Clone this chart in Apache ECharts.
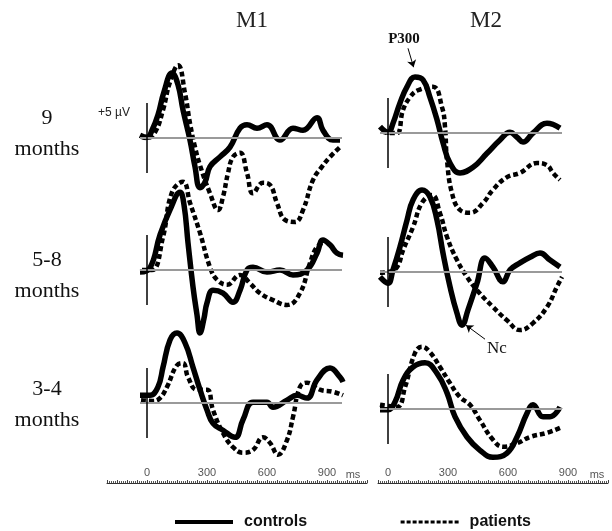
<!DOCTYPE html>
<html>
<head>
<meta charset="utf-8">
<script src="https://cdn.jsdelivr.net/npm/echarts@6/dist/echarts.min.js"></script>
<style>html,body{margin:0;background:#fff}#chart{width:612px;height:531px}</style>
</head>
<body>
<div id="chart"></div>
<script>
'use strict';

// ERP waveforms, [ms, µV]
const ctrl9M1 = [[-35,0.4],[0,0.1],[25,1.1],[55,3.3],[85,6.6],[125,9.3],[155,7.6],[180,4.0],[215,-0.3],[240,-4.1],[265,-7.1],[290,-6.3],[315,-4.1],[365,-2.7],[415,-1.3],[465,1.4],[500,1.9],[550,1.4],[600,1.9],[665,-0.3],[730,1.4],[780,1.1],[850,2.9],[880,1.1],[930,-0.3],[965,-0.3]];
const pat9M1 = [[-30,0.2],[0,0],[40,0.8],[80,4.0],[115,8.0],[155,10.4],[190,6.4],[215,2.1],[240,-1.3],[265,-3.9],[315,-7.9],[355,-10.3],[380,-8.4],[405,-5.0],[430,-2.7],[465,-2.1],[500,-5.0],[530,-7.9],[580,-6.4],[615,-6.7],[650,-9.3],[690,-11.7],[740,-12.0],[780,-10.3],[830,-6.0],[875,-4.1],[915,-2.7],[965,-1.3]];
const ctrl58M1 = [[-35,-0.3],[15,0.3],[65,5.0],[115,8.6],[165,11.1],[185,9.3],[205,3.9],[230,-2.4],[250,-6.4],[265,-9.0],[285,-6.9],[300,-4.7],[330,-2.9],[380,-3.3],[430,-4.6],[465,-2.9],[500,0],[530,0.4],[600,-0.3],[665,0],[730,-0.7],[800,0],[850,2.4],[880,4.3],[915,3.6],[950,2.4],[980,2.1]];
const pat58M1 = [[-25,0],[25,0],[80,4.7],[125,11.1],[180,12.6],[215,9.6],[265,5.3],[315,0.4],[350,-1.4],[400,-2.1],[465,-0.7],[515,-1.9],[565,-3.3],[630,-4.3],[700,-5.0],[765,-3.3],[815,1.0],[850,3.3],[890,4.0]];
const ctrl34M1 = [[-35,1.1],[15,1.1],[55,2.3],[80,5.1],[115,9.0],[150,10.0],[190,8.6],[230,5.1],[265,1.9],[300,-1.0],[330,-2.9],[380,-3.9],[440,-4.9],[480,-2.4],[530,0.1],[600,0.1],[630,-0.6],[700,0.4],[750,1.1],[800,0.7],[850,3.3],[915,5.0],[965,3.7],[980,3.0]];
const pat34M1 = [[-30,0.4],[30,0.3],[65,0.7],[100,2.3],[150,5.4],[180,5.7],[205,3.7],[250,1.9],[300,1.9],[330,-1.0],[380,-4.3],[430,-6.3],[480,-7.1],[530,-6.7],[580,-4.9],[615,-5.7],[655,-7.4],[700,-5.3],[730,-2.0],[765,2.3],[800,2.9],[865,1.9],[930,1.6],[980,1.1]];
const ctrl9M2 = [[-40,0.9],[0,0.1],[25,1.4],[60,4.3],[95,6.6],[135,8.0],[175,7.6],[210,5.1],[245,1.9],[275,-1.4],[310,-4.3],[360,-5.7],[425,-4.9],[495,-2.9],[560,-1.0],[610,0.1],[645,-0.6],[675,-1.3],[725,0],[795,1.4],[860,0.7]];
const pat9M2 = [[-30,0.3],[0,0],[45,0],[75,3.3],[110,5.1],[150,6.1],[225,6.6],[270,3.7],[285,0.9],[295,-3.9],[320,-8.6],[360,-11.0],[410,-11.4],[475,-10.0],[525,-8.1],[595,-6.3],[660,-5.7],[745,-4.3],[795,-4.6],[825,-5.7],[860,-6.7]];
const ctrl58M2 = [[-40,-0.7],[0,-1.6],[25,0.3],[60,3.6],[95,7.4],[125,10.3],[170,11.7],[210,10.7],[245,7.4],[275,2.7],[310,-2.1],[345,-5.9],[370,-7.6],[400,-5.4],[445,-1.6],[485,2.0],[525,0.7],[575,-1.4],[610,0.3],[660,1.3],[710,2.1],[760,2.7],[810,1.7],[860,0.7]];
const pat58M2 = [[-40,-0.1],[0,0],[45,0.7],[75,3.1],[125,6.4],[170,9.9],[220,11.0],[260,8.4],[295,5.0],[345,1.7],[395,-0.7],[445,-2.6],[525,-5.0],[595,-6.9],[660,-8.3],[725,-7.3],[795,-5.0],[845,-2.1],[870,-0.7]];
const ctrl34M2 = [[-40,-0.1],[0,-0.1],[35,1.0],[75,4.1],[125,6.0],[185,6.6],[245,5.1],[295,2.3],[335,-1.1],[395,-4.0],[460,-5.9],[525,-6.9],[595,-6.3],[645,-4.0],[695,-0.6],[725,0.6],[775,-1.1],[810,-1.1],[860,0.3]];
const pat34M2 = [[-40,0.6],[45,0.3],[85,3.1],[135,8.0],[170,8.9],[210,8.1],[260,6.0],[310,3.7],[360,1.7],[410,0.6],[460,-1.6],[525,-4.4],[575,-5.4],[645,-4.9],[710,-4.0],[795,-3.4],[860,-2.7]];

const columns = ['M1', 'M2'];
const ageGroups = ['9\nmonths', '5-8\nmonths', '3-4\nmonths'];
const tickLabels = [0, 300, 600, 900];

// panel layout: x0 = pixel of 0 ms, y0 = pixel of baseline
const panels = [
  { ctrl: ctrl9M1, pat: pat9M1, x0: 147, y0: 138, start: -35, end: 975 },
  { ctrl: ctrl58M1, pat: pat58M1, x0: 147, y0: 270, start: -35, end: 975 },
  { ctrl: ctrl34M1, pat: pat34M1, x0: 147, y0: 403, start: -35, end: 975 },
  { ctrl: ctrl9M2, pat: pat9M2, x0: 388, y0: 133, start: -40, end: 870 },
  { ctrl: ctrl58M2, pat: pat58M2, x0: 388, y0: 272, start: -40, end: 870 },
  { ctrl: ctrl34M2, pat: pat34M2, x0: 388, y0: 409, start: -40, end: 870 }
];

const grid = [], xAxis = [], yAxis = [], series = [];
panels.forEach((p, i) => {
  grid.push({ left: p.x0 - 10, top: p.y0 - 91, width: 210, height: 182 });
  xAxis.push({ gridIndex: i, type: 'value', min: -50, max: 1000, show: false });
  yAxis.push({ gridIndex: i, type: 'value', min: -13, max: 13, show: false });
  const marks = [
    [{ coord: [p.start, 0], lineStyle: { color: '#9a9a9a', width: 2, type: 'solid' } }, { coord: [p.end, 0] }],
    [{ coord: [0, 5], lineStyle: { color: '#000', width: 1.5, type: 'solid' } }, { coord: [0, -5] }]
  ];
  series.push({
    type: 'line', xAxisIndex: i, yAxisIndex: i, data: [], z: 1, silent: true,
    markLine: { silent: true, symbol: 'none', label: { show: false }, animation: false, data: marks }
  });
  series.push({
    name: 'patients', type: 'line', xAxisIndex: i, yAxisIndex: i, data: p.pat,
    smooth: 0.45, showSymbol: false, symbol: 'none', z: 2,
    lineStyle: { color: '#000', width: 4.5, type: [5, 3] }, itemStyle: { color: '#000' }
  });
  series.push({
    name: 'controls', type: 'line', xAxisIndex: i, yAxisIndex: i, data: p.ctrl,
    smooth: 0.45, showSymbol: false, symbol: 'none', z: 3,
    lineStyle: { color: '#000', width: 5.5 }, itemStyle: { color: '#000' }
  });
});

// annotation arrows (P300, Nc)
const arrowMark = (from, to) => ({
  silent: true, animation: false, label: { show: false },
  symbol: ['none', 'arrow'], symbolSize: 7,
  itemStyle: { color: '#000' },
  lineStyle: { color: '#000', width: 1, type: 'solid' },
  data: [[{ coord: from }, { coord: to }]]
});
series.push({ type: 'line', xAxisIndex: 3, yAxisIndex: 3, data: [], z: 4, markLine: arrowMark([100, 12.1], [128, 9.4]) });
series.push({ type: 'line', xAxisIndex: 4, yAxisIndex: 4, data: [], z: 4, markLine: arrowMark([485, -9.6], [390, -7.6]) });

// bottom time axes
const axisStyle = {
  type: 'value', interval: 50,
  axisLine: { lineStyle: { color: '#333', width: 1 } },
  axisTick: { inside: true, length: 3, lineStyle: { color: '#444' } },
  minorTick: { show: true, splitNumber: 5, length: 2, lineStyle: { color: '#555' } },
  splitLine: { show: false },
  axisLabel: {
    inside: true, margin: 5, color: '#555', fontSize: 11, fontFamily: 'Liberation Sans',
    formatter: v => tickLabels.includes(v) ? String(v) : ''
  }
};
grid.push({ left: 107, top: 470, width: 260, height: 13 });
grid.push({ left: 378, top: 470, width: 230, height: 13 });
xAxis.push(Object.assign({ gridIndex: 6, min: -200, max: 1100 }, axisStyle));
xAxis.push(Object.assign({ gridIndex: 7, min: -50, max: 1100 }, axisStyle));
yAxis.push({ gridIndex: 6, type: 'value', show: false });
yAxis.push({ gridIndex: 7, type: 'value', show: false });

const serif = 'Liberation Serif, Times New Roman, serif';
const sans = 'Liberation Sans, Arial, sans-serif';
const rowY = [134, 276, 405];

const graphic = [
  { type: 'text', x: 252, y: 21, style: { text: columns[0], font: '23px ' + serif, fill: '#222', align: 'center', verticalAlign: 'middle' } },
  { type: 'text', x: 486, y: 21, style: { text: columns[1], font: '23px ' + serif, fill: '#222', align: 'center', verticalAlign: 'middle' } },
  { type: 'text', x: 404, y: 39, style: { text: 'P300', font: 'bold 15px ' + serif, fill: '#111', align: 'center', verticalAlign: 'middle' } },
  { type: 'text', x: 497, y: 349, style: { text: 'Nc', font: '17px ' + serif, fill: '#111', align: 'center', verticalAlign: 'middle' } },
  { type: 'text', x: 114, y: 113, style: { text: '+5 µV', font: '12px ' + sans, fill: '#222', align: 'center', verticalAlign: 'middle' } },
  { type: 'text', x: 353, y: 475, style: { text: 'ms', font: '11px ' + sans, fill: '#555', align: 'center', verticalAlign: 'middle' } },
  { type: 'text', x: 597, y: 475, style: { text: 'ms', font: '11px ' + sans, fill: '#555', align: 'center', verticalAlign: 'middle' } }
];
ageGroups.forEach((t, i) => {
  graphic.push({ type: 'text', x: 47, y: rowY[i], style: { text: t, font: '22px ' + serif, lineHeight: 31, fill: '#111', align: 'center', verticalAlign: 'middle' } });
});

const chart = echarts.init(document.getElementById('chart'), null, { renderer: 'canvas' });
chart.setOption({
  animation: false,
  backgroundColor: '#fff',
  grid: grid,
  xAxis: xAxis,
  yAxis: yAxis,
  legend: {
    left: 168, top: 509, itemWidth: 58, itemHeight: 14, itemGap: 92,
    textStyle: { fontFamily: sans, fontSize: 16, fontWeight: 'bold', color: '#111', padding: [0, 0, 0, 6] },
    data: [
      { name: 'controls', itemStyle: { opacity: 0 }, lineStyle: { width: 4, type: 'solid' } },
      { name: 'patients', itemStyle: { opacity: 0 }, lineStyle: { width: 3, type: [4, 2] } }
    ]
  },
  graphic: graphic,
  series: series
});
</script>
</body>
</html>
